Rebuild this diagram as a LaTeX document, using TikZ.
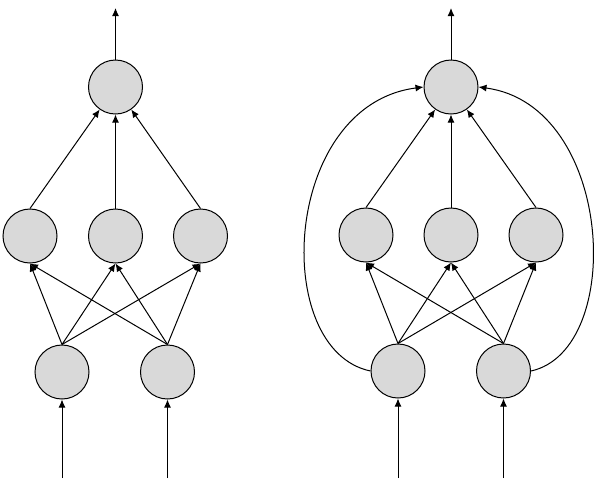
\documentclass[tikz,border=0pt]{standalone}
\usetikzlibrary{arrows.meta}
\begin{document}
\begin{tikzpicture}[x=0.5pt,y=-0.5pt,
  neuron/.style={circle,draw=black,fill=gray!30,line width=0.5pt,minimum size=27pt,inner sep=0pt},
  conn/.style={line width=0.5pt,-{Latex[length=4pt,width=3.5pt]}}]
\useasboundingbox (0,0) rectangle (600,478);
% left network
\node[neuron] (lt) at (115.5,87) {};
\node[neuron] (lm1) at (30,236) {};
\node[neuron] (lm2) at (115.5,236) {};
\node[neuron] (lm3) at (200.5,236) {};
\node[neuron] (lb1) at (62,372) {};
\node[neuron] (lb2) at (167.5,372) {};
\coordinate (lout) at (115.5,8);
\coordinate (lin1) at (62,478);
\coordinate (lin2) at (167.5,478);
\draw[conn] (lt.north) -- (lout);
\draw[conn] (lin1) -- (lb1.south);
\draw[conn] (lin2) -- (lb2.south);
\foreach \b in {lb1,lb2}{
  \foreach \m in {lm1,lm2,lm3}{
    \draw[conn] (\b.north) -- (\m.south);
  }
}
\foreach \m in {lm1,lm2,lm3}{
  \draw[conn] (\m.north) -- (lt);
}
% right network
\node[neuron] (rt) at (451,87) {};
\node[neuron] (rm1) at (366,235) {};
\node[neuron] (rm2) at (451,235) {};
\node[neuron] (rm3) at (536,235) {};
\node[neuron] (rb1) at (398,371) {};
\node[neuron] (rb2) at (503.5,371) {};
\coordinate (rout) at (451,8);
\coordinate (rin1) at (398,478);
\coordinate (rin2) at (503.5,478);
\draw[conn] (rt.north) -- (rout);
\draw[conn] (rin1) -- (rb1.south);
\draw[conn] (rin2) -- (rb2.south);
\foreach \b in {rb1,rb2}{
  \foreach \m in {rm1,rm2,rm3}{
    \draw[conn] (\b.north) -- (\m.south);
  }
}
\foreach \m in {rm1,rm2,rm3}{
  \draw[conn] (\m.north) -- (rt);
}
\draw[conn] (rb1.west) .. controls (270,350) and (282,105) .. (rt.west);
\draw[conn] (rb2.east) .. controls (626,350) and (614,105) .. (rt.east);
\end{tikzpicture}
\end{document}
